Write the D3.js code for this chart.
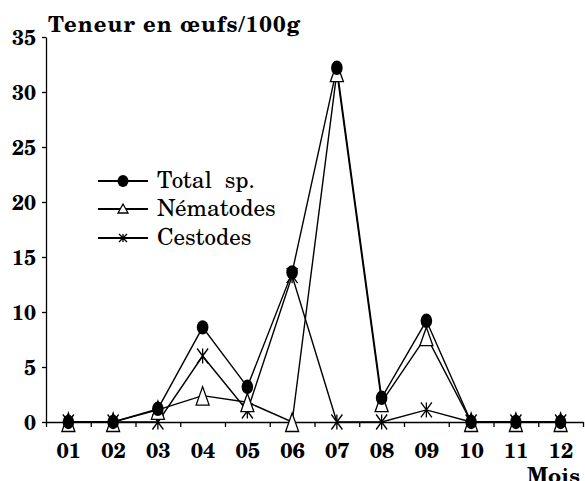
<!DOCTYPE html>
<html><head><meta charset="utf-8">
<script src="https://cdn.jsdelivr.net/npm/d3@7"></script>
<style>
html,body{margin:0;padding:0;background:#fff;}
svg{display:block;}
</style></head>
<body>
<svg id="c" width="585" height="481"></svg>
<script>
const months = ["01","02","03","04","05","06","07","08","09","10","11","12"];
const total = [0, 0, 1.2, 8.6, 3.2, 13.6, 32.2, 2.2, 9.2, 0, 0, 0];
const nematodes = [0, 0, 1.1, 2.4, 1.8, 0, 31.8, 1.8, 7.8, 0, 0, 0];
const cestodes = [0, 0, 0, 6.0, 1.0, 13.3, 0, 0, 1.1, 0, 0, 0];
const yTicks = [0,5,10,15,20,25,30,35];
const seriesNames = ["Total  sp.","Nématodes","Cestodes"];
const yTitle = "Teneur en œufs/100g";
const xTitle = "Mois";
const FF = "'TeX Gyre Schola','DejaVu Serif',serif";

const svg = d3.select("#c");
const x = d3.scaleLinear().domain([0.5, 12.5]).range([46, 583]);
const y = d3.scaleLinear().domain([0, 35]).range([422, 37]);

function bold(sel, size){
  sel.style("font-family",FF).style("font-weight","bold").style("font-size",size+"px").attr("fill","#000");
}

// Y axis
const ya = svg.append("g").attr("transform","translate(46,0)")
  .call(d3.axisLeft(y).tickValues(yTicks).tickSize(4).tickSizeOuter(0).tickPadding(6));
ya.select(".domain").attr("stroke","#000").attr("stroke-width",1.3);
ya.selectAll(".tick line").attr("stroke","#000").attr("stroke-width",1.3);
bold(ya.selectAll("text"), 21);
ya.selectAll("text").attr("dy","0.36em");

// X axis (ticks between months)
const halfs = d3.range(0, 13).map(i => i + 0.5);
const xa = svg.append("g").attr("transform","translate(0,"+y(0)+")")
  .call(d3.axisBottom(x).tickValues(halfs).tickSize(5).tickSizeOuter(0).tickFormat(""));
xa.select(".domain").attr("stroke","#000").attr("stroke-width",1.3);
xa.selectAll(".tick line").attr("stroke","#000").attr("stroke-width",1.3);

const xl = svg.append("g").attr("transform","translate(0,"+y(0)+")")
  .call(d3.axisBottom(x).tickValues(d3.range(1,13)).tickSize(0).tickPadding(21)
    .tickFormat((d)=>months[d-1]));
xl.select(".domain").remove();
bold(xl.selectAll("text"), 21.5);

// Titles
bold(svg.append("text").attr("x",48).attr("y",32)
  .attr("textLength",252).attr("lengthAdjust","spacing").text(yTitle), 22);
bold(svg.append("text").attr("x",527).attr("y",483).text(xTitle), 21.5);

// markers
function circleMark(g, cx, cy, rx, ry){
  g.append("ellipse").attr("cx",cx).attr("cy",cy).attr("rx",rx).attr("ry",ry).attr("fill","#000");
}
function triMark(g, cx, cy, hw, up, down){
  g.append("path").attr("d",`M${cx},${cy-up}L${cx+hw},${cy+down}L${cx-hw},${cy+down}Z`)
    .attr("fill","#fff").attr("stroke","#000").attr("stroke-width",1.3);
}
function starMark(g, cx, cy, hw, hh){
  g.append("path").attr("d",`M${cx-hw},${cy-hh}L${cx+hw},${cy+hh}M${cx+hw},${cy-hh}L${cx-hw},${cy+hh}M${cx},${cy-hh}L${cx},${cy+hh}`)
    .attr("fill","none").attr("stroke","#000").attr("stroke-width",1.3);
}

const line = d3.line().x((d,i)=>x(i+1)).y(d=>y(d));
const series = [
  {vals: cestodes, mark: (g,cx,cy)=>starMark(g,cx,cy,5.5,7.5)},
  {vals: nematodes, mark: (g,cx,cy)=>triMark(g,cx,cy,6.5,9,9.5)},
  {vals: total, mark: (g,cx,cy)=>circleMark(g,cx,cy,5.8,7.2)}
];
const plot = svg.append("g");
series.forEach(s=>{
  plot.append("path").attr("d",line(s.vals)).attr("fill","none").attr("stroke","#000").attr("stroke-width",1.4);
});
series.forEach(s=>{
  const g = plot.append("g");
  s.vals.forEach((v,i)=> s.mark(g, x(i+1), y(v)));
});

// Legend
const leg = svg.append("g");
const legY = [181, 209, 238];
const legMarks = [
  (g,cx,cy)=>circleMark(g,cx,cy,5.5,6),
  (g,cx,cy)=>triMark(g,cx,cy,5,5,4),
  (g,cx,cy)=>starMark(g,cx,cy,4,4)
];
seriesNames.forEach((n,i)=>{
  leg.append("line").attr("x1",98).attr("x2",148).attr("y1",legY[i]).attr("y2",legY[i])
    .attr("stroke","#000").attr("stroke-width",2);
  legMarks[i](leg, 123, legY[i]);
  leg.append("text").attr("x",157).attr("y",legY[i]+7)
    .style("font-family",FF).style("font-size","23px").style("white-space","pre").attr("fill","#000")
    .text(n);
});
</script>
</body></html>
